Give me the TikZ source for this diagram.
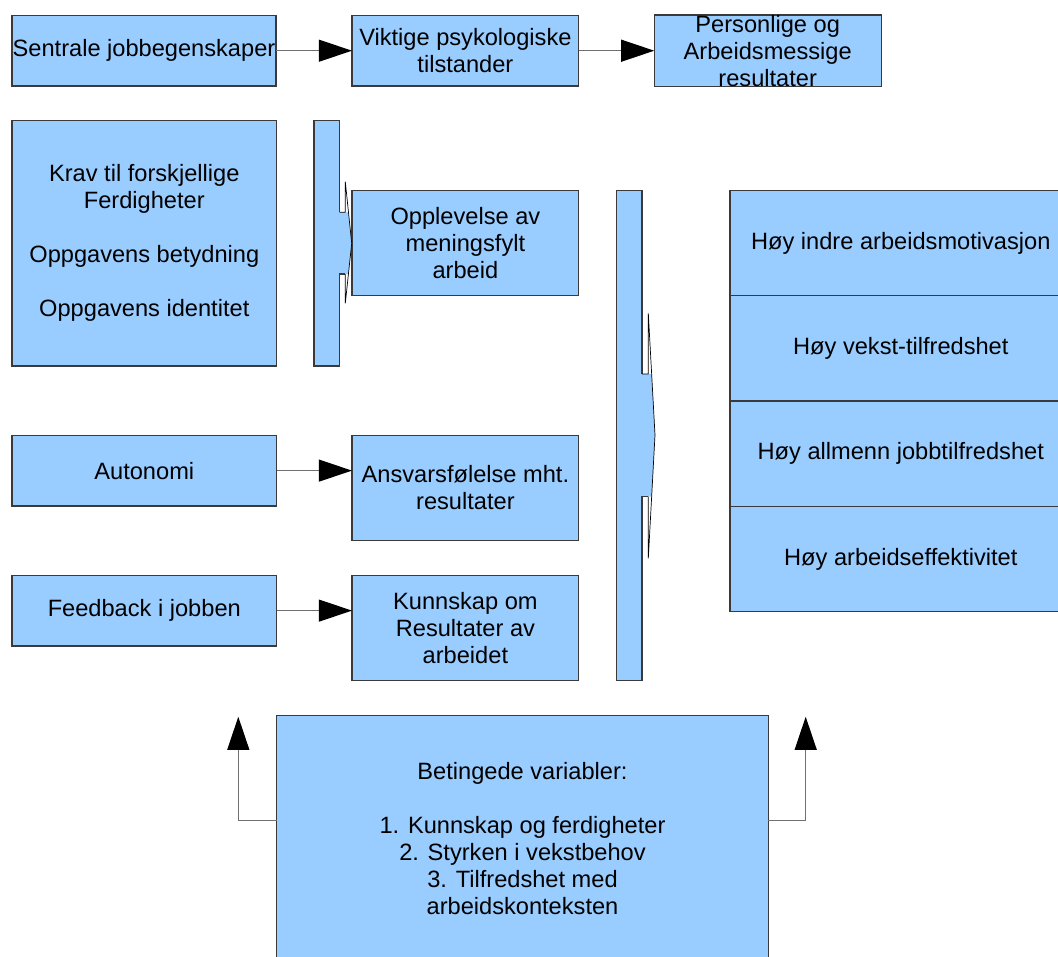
\documentclass[tikz,border=0pt]{standalone}
\usepackage{fontspec}
\setmainfont{Liberation Sans}
\usetikzlibrary{arrows.meta, positioning}
\definecolor{boxblue}{HTML}{99CCFF}
\definecolor{boxline}{HTML}{3A3A3A}
\definecolor{linegray}{HTML}{707070}
\tikzstyle{rect} = [rectangle, 
			draw = boxline, 
			fill = boxblue, 
			line width = 0.9pt, 
			inner sep = 0pt, 
			outer sep = 0pt, 
			align = center, 
			font = \fontsize{16.8pt}{19.2pt}\selectfont]
\tikzstyle{pil} = [draw = linegray, 
			line width = 1pt, 
			-{Triangle[length = 8.3mm, width = 5.5mm, color = black]}]
\tikzstyle{bar} = [draw = boxline, 
			line width = 0.9pt]
\tikzstyle{barhead} = [draw = black, 
			line width = 0.5pt]

\begin{document}
\begin{tikzpicture}[x = 0.025cm, y = -0.025cm]
	\useasboundingbox (0,0) rectangle (1058,956);
	\clip (0,0) rectangle (1058,956);
	\node [rect, minimum width = 6.6cm, minimum height = 1.77cm] (sentrale) at (144,50.7) {Sentrale jobbegenskaper};
	\node [rect, minimum width = 5.67cm, minimum height = 1.77cm] (viktige) at (465.4,50.7) {Viktige psykologiske\\tilstander};
	\node [rect, minimum width = 5.67cm, minimum height = 1.77cm] (personlige) at (767.7,50.7) {Personlige og\\Arbeidsmessige\\resultater};
	\node [rect, minimum width = 6.61cm, minimum height = 6.13cm] (krav) at (144.3,243.3) {Krav til forskjellige\\Ferdigheter\\[19.2pt]Oppgavens betydning\\[19.2pt]Oppgavens identitet};
	\node [rect, minimum width = 5.67cm, minimum height = 2.63cm] (opplevelse) at (465.4,243.2) {Opplevelse av\\meningsfylt\\arbeid};
	\node [rect, minimum width = 6.61cm, minimum height = 1.77cm] (autonomi) at (144.3,470.6) {Autonomi};
	\node [rect, minimum width = 5.67cm, minimum height = 2.63cm] (ansvar) at (465.4,488) {Ansvarsfølelse mht.\\resultater};
	\node [rect, minimum width = 6.61cm, minimum height = 1.77cm] (feedback) at (144.3,610.6) {Feedback i jobben};
	\node [rect, minimum width = 5.67cm, minimum height = 2.63cm] (kunnskap) at (465.4,628) {Kunnskap om\\Resultater av\\arbeidet};
	\node [rect, minimum width = 8.54cm, minimum height = 2.63cm] (motivasjon) at (900.8,243.2) {Høy indre arbeidsmotivasjon};
	\node [rect, minimum width = 8.54cm, minimum height = 2.63cm, below=0em of motivasjon] (vekst) {Høy vekst-tilfredshet};
	\node [rect, minimum width = 8.54cm, minimum height = 2.63cm, below=0em of vekst] (jobbtilfredshet) {Høy allmenn jobbtilfredshet};
	\node [rect, minimum width = 8.54cm, minimum height = 2.63cm, below=0em of jobbtilfredshet] (effektivitet) {Høy arbeidseffektivitet};
	\node [rect, minimum width = 12.29cm, minimum height = 6.16cm] (betingede) at (522.5,838.9) {Betingede variabler:\\[19.2pt]1. Kunnskap og ferdigheter\\2. Styrken i vekstbehov\\3. Tilfredshet med\\arbeidskonteksten};

	\fill [boxblue] (314,120.7) -- (339.7,120.7) -- (339.7,212.3) -- (348.5,212.3) -- (351.7,243.3) -- (348.5,274) -- (339.7,274) -- (339.7,366) -- (314,366) -- cycle;
	\draw [bar] (339.7,212.3) -- (339.7,120.7) -- (314,120.7) -- (314,366) -- (339.7,366) -- (339.7,274) -- (345.3,274);
	\draw [barhead] (345.3,274) -- (345.3,303.3) -- (351.7,243.3) -- (345.3,181.7) -- (345.3,212.3) -- (339.7,212.3);
	\fill [boxblue] (616.7,190.7) -- (642,190.7) -- (642,374) -- (651.6,374) -- (655,435) -- (651.6,496.7) -- (642,496.7) -- (642,680.7) -- (616.7,680.7) -- cycle;
	\draw [bar] (642,374) -- (642,190.7) -- (616.7,190.7) -- (616.7,680.7) -- (642,680.7) -- (642,496.7) -- (648.3,496.7);
	\draw [barhead] (648.3,496.7) -- (648.3,558.3) -- (655,435) -- (648.3,313.3) -- (648.3,374) -- (642,374);

	\draw [pil] (sentrale) -- (viktige);
	\draw [pil] (viktige) -- (personlige);
	\draw [pil] (autonomi.east) -- (autonomi.east -| ansvar.west);
	\draw [pil] (feedback.east) -- (feedback.east -| kunnskap.west);

	\coordinate (venstre-knekk) at (238.3,820.7);
	\coordinate (venstre-topp) at (238.3,716.7);
	\coordinate (hoyre-knekk) at (805.7,820.7);
	\coordinate (hoyre-topp) at (805.7,716.7);
	\draw [pil] (venstre-knekk -| betingede.west) -- (venstre-knekk) -- (venstre-topp);
	\draw [pil] (hoyre-knekk -| betingede.east) -- (hoyre-knekk) -- (hoyre-topp);
\end{tikzpicture}
\end{document}
